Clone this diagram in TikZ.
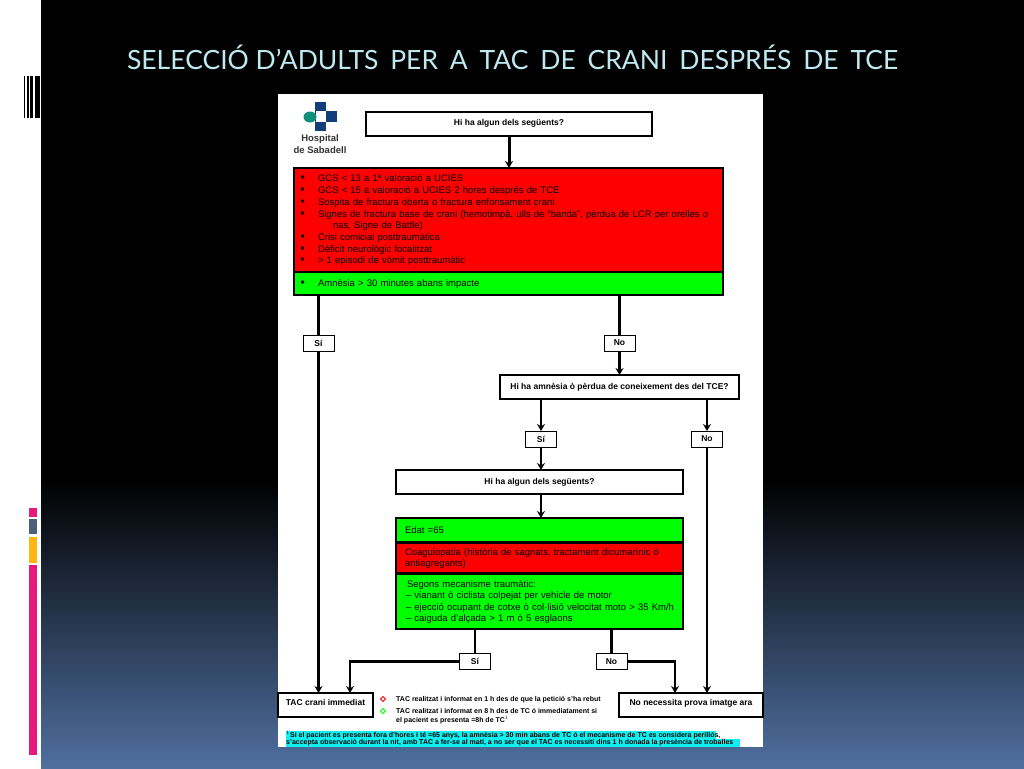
\documentclass[tikz,border=0pt]{standalone}
\usepackage{fontspec}
\setmainfont{Liberation Sans}
\newfontfamily\titlefont{Lato}
\usetikzlibrary{arrows.meta}
\definecolor{slidecyan}{HTML}{BFE9F0}
\definecolor{slideblue}{HTML}{4F6F9F}
\definecolor{slidepink}{HTML}{E8197D}
\definecolor{slidegrey}{HTML}{4A6078}
\definecolor{slideorange}{HTML}{FFB511}
\definecolor{boxred}{HTML}{FF0000}
\definecolor{boxgreen}{HTML}{00FF00}
\definecolor{notecyan}{HTML}{10F0F0}
\definecolor{logoblue}{HTML}{123F7C}
\definecolor{logogreen}{HTML}{0E8F78}
\newcommand{\itemline}[1]{\makebox[20.5pt][l]{\hspace{3pt}\smash{\fontsize{12}{12}\selectfont\textbullet}}#1}
\tikzset{
  box/.style={draw=black, line width=2pt, inner sep=0pt, outer sep=0pt, font=\fontsize{9.5}{11}\selectfont},
  question/.style={box, fill=white, font=\fontsize{8.5}{10}\selectfont\bfseries},
  answer/.style={draw=black, line width=1pt, fill=white, inner sep=0pt, outer sep=0pt,
    minimum width=31pt, minimum height=16pt, font=\fontsize{8.5}{10}\selectfont\bfseries},
  flow/.style={draw=black, line width=2.4pt, -{Stealth[length=7pt,width=8pt]}},
  link/.style={draw=black, line width=2.4pt},
  note/.style={inner sep=0pt, anchor=west, font=\fontsize{7}{9}\selectfont\bfseries},
  footline/.style={note, font=\fontsize{7}{8}\selectfont\bfseries},
  bulletmark/.style={thick, shape=rectangle, rotate=45, inner sep=0pt, minimum width=3.5pt, minimum height=3.5pt}
}
\begin{document}
\begin{tikzpicture}[x=1pt, y=-1pt]
\useasboundingbox (0,0) rectangle (1024,768);
% slide
\fill[white] (0,0) rectangle (41,768);
\fill[black] (41,0) rectangle (1024,480);
\shade[top color=black, bottom color=slideblue] (41,480) rectangle (1024,768);
\fill[black] (24,76) rectangle (25,118);
\fill[black] (27,76) rectangle (28.5,118);
\fill[black] (30,76) rectangle (33,118);
\fill[black] (35,76) rectangle (40,118);
\fill[slidepink] (29,508) rectangle (37,517);
\fill[slidegrey] (29,519) rectangle (37,534);
\fill[slideorange] (29,537) rectangle (37,563);
\fill[slidepink] (29,565) rectangle (37,755);
\node[text=slidecyan, font=\fontsize{26.5}{30}\selectfont\titlefont, inner sep=0pt] (title) at (512.5,57)
  {SELECCIÓ D’ADULTS\hspace{5pt} PER\hspace{5pt} A\hspace{5pt} TAC\hspace{5pt} DE\hspace{5pt} CRANI\hspace{5pt} DESPRÉS\hspace{5pt} DE\hspace{5pt} TCE};
\fill[white] (278,94) rectangle (763,747);
% logo
\fill[logoblue] (315,102) rectangle (326,131);
\fill[logoblue] (315,111) rectangle (337,122);
\fill[white] (316,111) rectangle (326,122);
\fill[logogreen] (310,117) ellipse (6.5 and 5.5);
\node[inner sep=0pt, align=center, text=black!80, font=\fontsize{9.5}{11.5}\selectfont\bfseries] (logo) at (320,144) {Hospital\\de Sabadell};
% boxes
\node[question, minimum width=286pt, minimum height=24pt] (ask1) at (509,124) {\raisebox{3pt}{Hi ha algun dels següents?}};
\node[box, fill=boxred, minimum width=429pt, minimum height=104pt, text width=422pt, align=left] (red1) at (508.5,220)
  {\fontsize{9.5}{11.9}\selectfont
   \itemline{GCS < 13 a 1ª valoració a UCIES}\\
   \itemline{GCS < 15 a valoració a UCIES 2 hores després de TCE}\\
   \itemline{Sospita de fractura oberta o fractura enfonsament crani}\\
   \itemline{Signes de fractura base de crani (hemotimpà, ulls de “banda”, pèrdua de LCR per orelles o}\\
   \hspace{35.5pt}nas, Signe de Battle)\\
   \itemline{Crisi comicial posttraumàtica}\\
   \itemline{Dèficit neurològic focalitzat}\\
   \itemline{> 1 episodi de vòmit posttraumàtic}};
\node[box, fill=boxgreen, minimum width=429pt, minimum height=23pt, text width=422pt, align=left] (green1) at (508.5,283.5)
  {\raisebox{1pt}{\itemline{Amnèsia > 30 minutes abans impacte}}};
\node[answer] (si1) at (318.5,343) {Sí};
\node[answer] (no1) at (619.5,343) {No};
\node[question, minimum width=239pt, minimum height=24pt] (ask2) at (619.5,387) {Hi ha amnèsia ò pèrdua de coneixement des del TCE?};
\node[answer] (si2) at (541,439) {Sí};
\node[answer] (no2) at (707,439) {No};
\node[question, minimum width=287pt, minimum height=24pt] (ask3) at (539.5,482) {\raisebox{1.5pt}{Hi ha algun dels següents?}};
\node[box, fill=boxgreen, minimum width=287pt, minimum height=24pt, text width=277pt, align=left] (green2) at (539.5,530) {\hspace{4pt}Edat =65};
\node[box, fill=boxred, minimum width=287pt, minimum height=30pt, text width=277pt, align=left] (red2) at (539.5,558)
  {\fontsize{9.5}{11}\selectfont\hspace{4pt}Coagulopatia (història de sagnats, tractament dicumarínic ó\\\hspace{4pt}antiagregants)};
\node[box, fill=boxgreen, minimum width=287pt, minimum height=55pt, text width=277pt, align=left] (green3) at (539.5,601.5)
  {\fontsize{9.5}{11.5}\selectfont\hspace{6pt}Segons mecanisme traumàtic:\\
   \hspace{5pt}-- vianant ò ciclista colpejat per vehicle de motor\\
   \hspace{5pt}-- ejecció ocupant de cotxe ò col·lisió velocitat moto > 35 Km/h\\
   \hspace{5pt}-- caiguda d’alçada > 1 m ò 5 esglaons};
\node[answer] (si3) at (475,661.5) {Sí};
\node[answer] (no3) at (611.5,661.5) {No};
\node[question, line width=1.6pt, minimum width=95pt, minimum height=24pt] (tac) at (325.5,705) {\raisebox{5pt}{TAC crani immediat}};
\node[question, line width=1.6pt, minimum width=144pt, minimum height=24pt] (none) at (691,705) {\raisebox{5pt}{No necessita prova imatge ara}};
% legend
\node[bulletmark, draw=red] (mark1) at (383,699) {};
\node[bulletmark, draw=boxgreen] (mark2) at (383,711) {};
\node[note] (time1) at (396,699.5) {TAC realitzat i informat en 1 h des de que la petició s’ha rebut};
\node[note] (time2) at (396,710.5) {TAC realitzat i informat en 8 h des de TC ó immediatament si};
\node[note] (time3) at (396,720) {el pacient es presenta =8h de TC$^{1}$};
% footnote
\fill[notecyan] (286,731) rectangle (716,739);
\fill[notecyan] (286,739) rectangle (740,747);
\node[footline] (foot1) at (286,735) {$^{1}$Si el pacient es presenta fora d’hores i té =65 anys, la amnèsia > 30 min abans de TC ó el mecanisme de TC es considera perillós,};
\node[footline] (foot2) at (286,743) {s’accepta observació durant la nit, amb TAC a fer-se al matí, a no ser que el TAC es necessiti dins 1 h donada la presència de troballes};
% connectors
\draw[flow, line width=3pt] (ask1) -- (ask1 |- red1.north);
\draw[link] (si1 |- green1.south) -- (si1);
\draw[link] (no1 |- green1.south) -- (no1);
\draw[flow] (si1) -- (si1 |- tac.north);
\draw[flow] (no1) -- (ask2);
\draw[flow] (si2 |- ask2.south) -- (si2);
\draw[flow] (no2 |- ask2.south) -- (no2);
\draw[flow] (no2) -- (no2 |- none.north);
\draw[flow] (si2) -- (si2 |- ask3.north);
\draw[flow] (si2 |- ask3.south) -- (si2 |- green2.north);
\draw[link] (si3 |- green3.south) -- (si3);
\draw[link] (no3 |- green3.south) -- (no3);
\coordinate (tacin) at (350,693);
\coordinate (nonein) at (675,693);
\draw[flow] (si3) -| (tacin);
\draw[flow] (no3) -| (nonein);
\end{tikzpicture}
\end{document}
